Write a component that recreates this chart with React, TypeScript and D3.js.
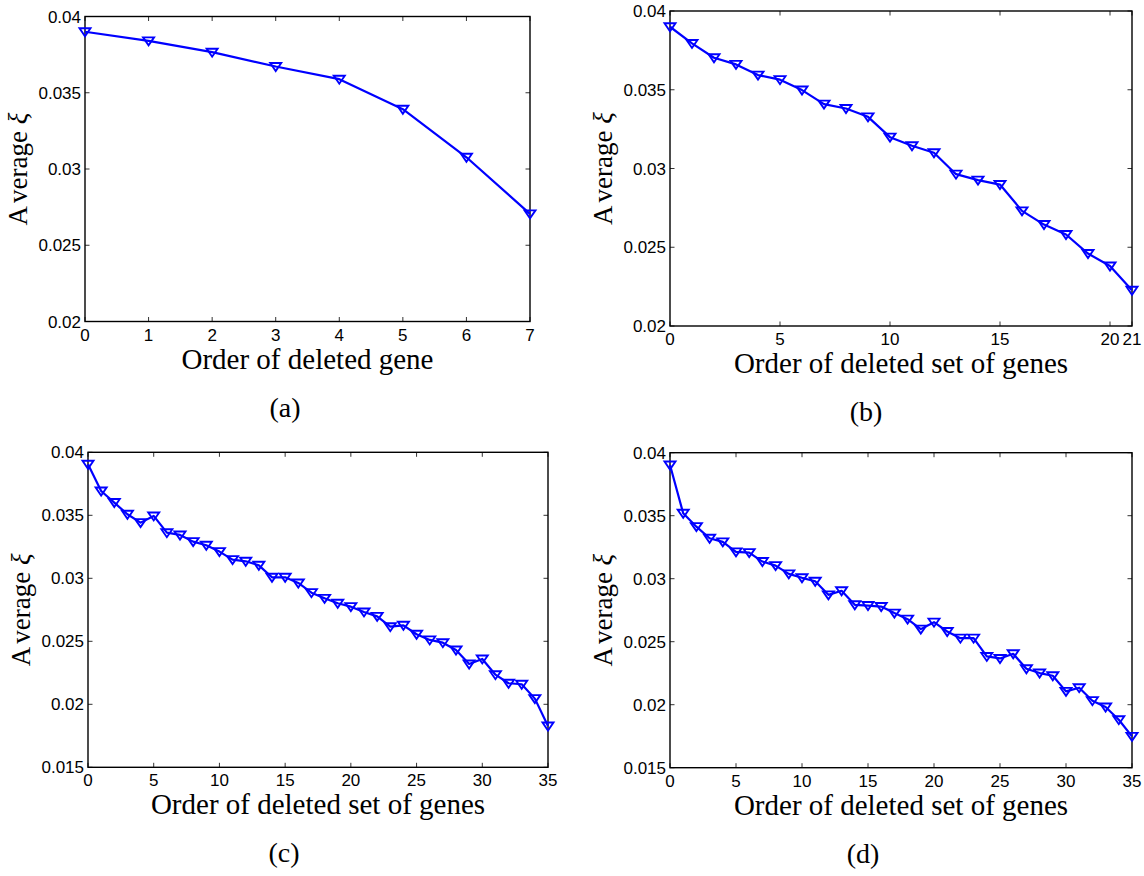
import React from 'react';
import * as d3 from 'd3';

// Average xi after deleting genes
const avgXiA = [0.0390, 0.0384, 0.03766, 0.03672, 0.03589, 0.03392, 0.03077, 0.02706];
const avgXiB = [0.0390, 0.03794, 0.03703, 0.03661, 0.03593, 0.03564, 0.03498, 0.03409, 0.03381, 0.03328, 0.03199,
  0.03144, 0.03100, 0.02964, 0.02926, 0.02898, 0.02731, 0.02644, 0.02581, 0.0246, 0.02381, 0.02227];
const avgXiC = [0.03905, 0.03693, 0.03601, 0.03508, 0.03442, 0.03495, 0.03362, 0.03344, 0.03291, 0.03262, 0.03212,
  0.03148, 0.03135, 0.03103, 0.03008, 0.03008, 0.02963, 0.02886, 0.02841, 0.02802, 0.02775, 0.02733, 0.02698,
  0.02616, 0.02627, 0.02556, 0.02511, 0.02489, 0.02431, 0.0232, 0.0236, 0.02235, 0.02167, 0.02159, 0.02045, 0.01828];
const avgXiD = [0.03902, 0.03519, 0.03413, 0.03321, 0.03292, 0.03213, 0.03207, 0.03136, 0.03104, 0.03038, 0.03007,
  0.0298, 0.02872, 0.02904, 0.02793, 0.02787, 0.02779, 0.02727, 0.02679, 0.026, 0.02655, 0.02581, 0.02528, 0.02528,
  0.02383, 0.02367, 0.02404, 0.02285, 0.02251, 0.0223, 0.02106, 0.02135, 0.02032, 0.01982, 0.01881, 0.01749];

const xTicksA = [0, 1, 2, 3, 4, 5, 6, 7];
const xTicksB = [0, 5, 10, 15, 20, 21];
const xTicksCD = [0, 5, 10, 15, 20, 25, 30, 35];
const yTicksAB = [0.02, 0.025, 0.03, 0.035, 0.04];
const yTicksCD = [0.015, 0.02, 0.025, 0.03, 0.035, 0.04];

const xLabelGene = 'Order of deleted gene';
const xLabelSet = 'Order of deleted set of genes';
const panelTags = ['(a)', '(b)', '(c)', '(d)'];

const SANS = '"Liberation Sans", Arial, sans-serif';
const SERIF = '"Liberation Serif", "Times New Roman", serif';
const BLUE = '#0000ff';

type PanelProps = {
  values: number[];
  xMax: number;
  yMin: number;
  yMax: number;
  xTicks: number[];
  yTicks: number[];
  xLabel: string;
  tag: string;
  tagX: number;
  left: number;
  right: number;
  top: number;
  bottom: number;
};

const fmt = (v: number) => String(+v.toFixed(3));

function Panel(p: PanelProps) {
  const x = d3.scaleLinear().domain([0, p.xMax]).range([p.left, p.right]);
  const y = d3.scaleLinear().domain([p.yMin, p.yMax]).range([p.bottom, p.top]);
  const line = d3.line<number>().x((_, i) => x(i)).y((d) => y(d));
  const tl = 4.5;
  const cx = (p.left + p.right) / 2;
  const cy = (p.top + p.bottom) / 2;
  return (
    <g>
      {p.xTicks.map((t) => (
        <g key={'xt' + t}>
          <line x1={x(t)} x2={x(t)} y1={p.bottom} y2={p.bottom - tl} stroke="#333" strokeWidth={1} />
          <line x1={x(t)} x2={x(t)} y1={p.top} y2={p.top + tl} stroke="#333" strokeWidth={1} />
          <text x={x(t)} y={p.bottom + 19} textAnchor="middle" fontFamily={SANS} fontSize={17} fill="#000">
            {t}
          </text>
        </g>
      ))}
      {p.yTicks.map((t) => (
        <g key={'yt' + t}>
          <line x1={p.left} x2={p.left + tl} y1={y(t)} y2={y(t)} stroke="#333" strokeWidth={1} />
          <line x1={p.right} x2={p.right - tl} y1={y(t)} y2={y(t)} stroke="#333" strokeWidth={1} />
          <text x={p.left - 4} y={y(t) + 6} textAnchor="end" fontFamily={SANS} fontSize={17} fill="#000">
            {fmt(t)}
          </text>
        </g>
      ))}
      <rect x={p.left} y={p.top} width={p.right - p.left} height={p.bottom - p.top} fill="none" stroke="#000" strokeWidth={1.4} />
      <path d={line(p.values) || ''} fill="none" stroke={BLUE} strokeWidth={2.2} strokeLinejoin="round" />
      {p.values.map((v, i) => {
        const px = x(i);
        const py = y(v);
        return (
          <path
            key={'m' + i}
            d={`M${px - 5.5},${py - 3.5}L${px + 5.5},${py - 3.5}L${px},${py + 4.5}Z`}
            fill="none"
            stroke={BLUE}
            strokeWidth={1.9}
            strokeLinejoin="miter"
          />
        );
      })}
      <text x={cx} y={p.bottom + 47} textAnchor="middle" fontFamily={SERIF} fontSize={29} fill="#000">
        {p.xLabel}
      </text>
      <text
        transform={`translate(${p.left - 58},${cy}) rotate(-90)`}
        textAnchor="middle"
        fontFamily={SERIF}
        fontSize={27}
        fill="#000"
      >
        <tspan>A</tspan>
        <tspan dx={5}>verage </tspan>
        <tspan fontStyle="italic">ξ</tspan>
      </text>
      <text x={p.tagX} y={p.bottom + 95} textAnchor="middle" fontFamily={SERIF} fontSize={28} fill="#000">
        {p.tag}
      </text>
    </g>
  );
}

export default function App() {
  return (
    <svg
      width={1144}
      height={876}
      viewBox="0 0 1144 876"
      style={{ position: 'absolute', left: 0, top: 0, background: '#fff' }}
    >
      <rect x={0} y={0} width={1144} height={876} fill="#fff" />
      <Panel values={avgXiA} xMax={7} yMin={0.02} yMax={0.04} xTicks={xTicksA} yTicks={yTicksAB}
        xLabel={xLabelGene} tag={panelTags[0]} tagX={285} left={85} right={530} top={16.5} bottom={321.5} />
      <Panel values={avgXiB} xMax={21} yMin={0.02} yMax={0.04} xTicks={xTicksB} yTicks={yTicksAB}
        xLabel={xLabelSet} tag={panelTags[1]} tagX={866} left={670} right={1132} top={11} bottom={326} />
      <Panel values={avgXiC} xMax={35} yMin={0.015} yMax={0.04} xTicks={xTicksCD} yTicks={yTicksCD}
        xLabel={xLabelSet} tag={panelTags[2]} tagX={284} left={88} right={548} top={452.3} bottom={767.3} />
      <Panel values={avgXiD} xMax={35} yMin={0.015} yMax={0.04} xTicks={xTicksCD} yTicks={yTicksCD}
        xLabel={xLabelSet} tag={panelTags[3]} tagX={863} left={670} right={1132} top={452.7} bottom={767.7} />
    </svg>
  );
}
